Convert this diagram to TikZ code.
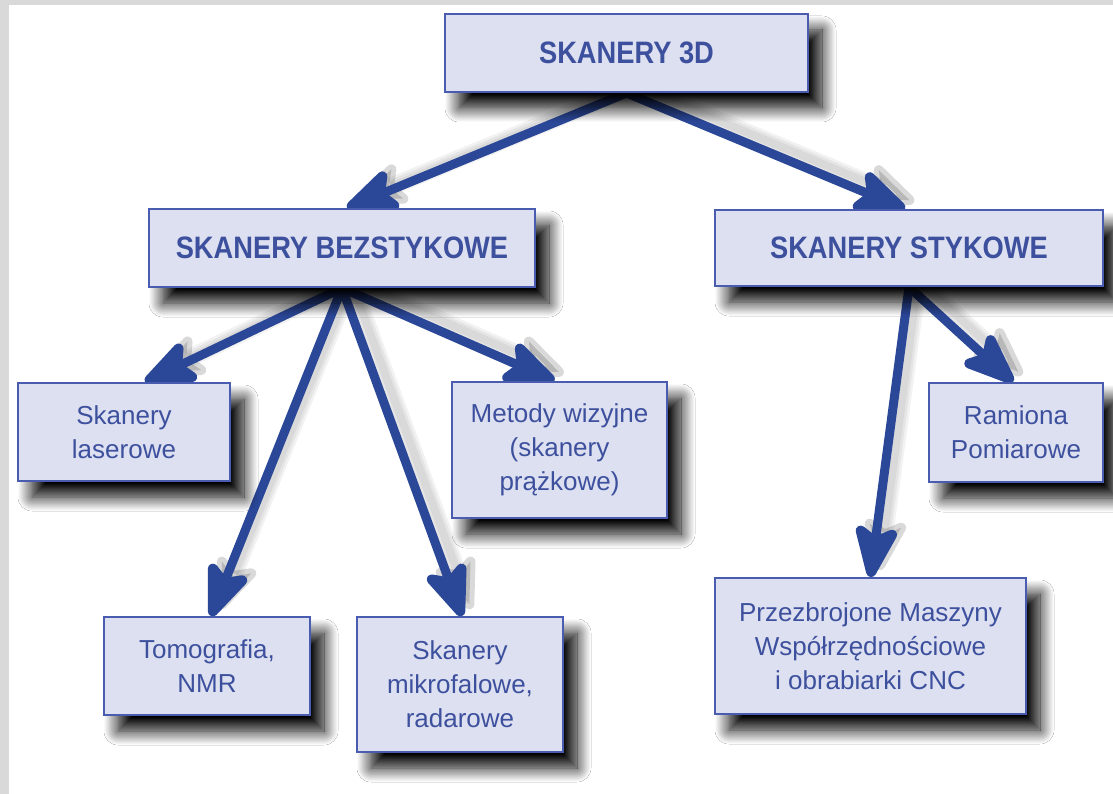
\documentclass[tikz,border=0pt]{standalone}
\usepackage{fontspec}
\setmainfont{Liberation Sans}
\newfontfamily\headfont{Liberation Sans}[FakeStretch=0.88]
\usetikzlibrary{arrows.meta}
\usetikzlibrary{shadows.blur}

\definecolor{boxfill}{RGB}{221,224,240}
\definecolor{boxline}{RGB}{74,92,176}
\definecolor{boxtext}{RGB}{61,80,158}
\definecolor{arrowblue}{RGB}{43,71,152}
\definecolor{pagegray}{RGB}{217,217,217}

\pgfdeclarelayer{back}
\pgfdeclarelayer{links}
\pgfsetlayers{back,links,main}

\tikzset{
  box/.style={draw=boxline, line width=2pt, fill=boxfill, text=boxtext, align=center,
    inner sep=0pt, font=\fontsize{26}{34}\selectfont,
    blur shadow={shadow xshift=14pt, shadow yshift=-16pt, shadow blur radius=14pt,
      shadow opacity=100, shadow blur steps=16}},
  headbox/.style={box, font=\headfont\bfseries\fontsize{31}{36}\selectfont},
  head/.style={-{Stealth[length=64pt, width=50pt, inset=14pt, line width=10pt, round]}},
  link/.style={draw=arrowblue, line width=9pt, head},
  linkshade/.style={draw=black, opacity=0.05, line width=#1, head}
}

\begin{document}
\begin{tikzpicture}[x=1pt,y=1pt,yscale=-1,xscale=1]

%Boxes
\node [headbox, minimum width=363, minimum height=78] (top) at (626.5,53) {SKANERY 3D};
\node [headbox, minimum width=386, minimum height=78] (bez) at (342,248) {SKANERY BEZSTYKOWE};
\node [headbox, minimum width=388, minimum height=76] (sty) at (909,248) {SKANERY STYKOWE};
\node [box, minimum width=212, minimum height=98] (las) at (124,432) {Skanery\\laserowe};
\node [box, minimum width=215, minimum height=136] (wiz) at (559.5,450) {Metody wizyjne\\(skanery\\prążkowe)};
\node [box, minimum width=174, minimum height=99] (ram) at (1016,432.5) {Ramiona\\Pomiarowe};
\node [box, minimum width=206, minimum height=98] (tom) at (207,666) {Tomografia,\\NMR};
\node [box, minimum width=206, minimum height=135] (mik) at (460,684.5) {Skanery\\mikrofalowe,\\radarowe};
\node [box, minimum width=311, minimum height=136] (cmm) at (870.5,646) {Przezbrojone Maszyny\\Współrzędnościowe\\i obrabiarki CNC};

%Page
\begin{pgfonlayer}{back}
\fill [pagegray] (0,0) rectangle (1113,794);
\fill [white] (9,5) rectangle (1113,794);
\end{pgfonlayer}

%Arrows
\begin{pgfonlayer}{links}
\foreach \from/\to/\dx in {top/bez/5, top/sty/-4, bez/las/21, bez/tom/4, bez/mik/2, bez/wiz/-5, sty/ram/-3, sty/cmm/0}
{
  \foreach \w in {8,13,18}
    \draw [linkshade=\w pt] ([xshift=9pt,yshift=-7pt]\from.south) -- ([xshift=\dx pt+9pt,yshift=-7pt]\to.north);
  \draw [link] (\from.south) -- ([xshift=\dx pt]\to.north);
}
\end{pgfonlayer}

\end{tikzpicture}
\end{document}
